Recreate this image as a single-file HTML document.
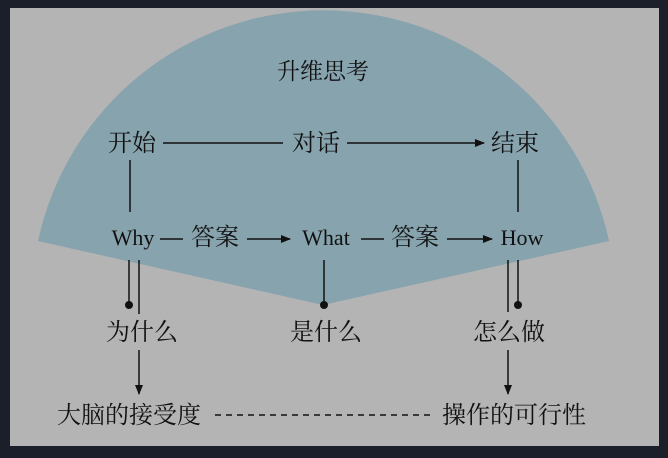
<!DOCTYPE html>
<html><head><meta charset="utf-8"><style>
html,body{margin:0;padding:0;background:#1b1f29;}
svg{display:block}
text{font-family:"Liberation Serif","Noto Serif CJK SC",serif;fill:#111;}
</style></head><body>
<svg width="668" height="458" viewBox="0 0 668 458" xmlns="http://www.w3.org/2000/svg">
<defs><marker id="a" markerWidth="10" markerHeight="8" refX="9" refY="4" orient="auto" markerUnits="userSpaceOnUse"><path d="M0,0L10,4L0,8z" fill="#111"/></marker></defs>
<rect x="0" y="0" width="668" height="458" fill="#1b1f29"/>
<rect x="10" y="8" width="649" height="438" fill="#b4b4b4"/>
<path d="M323,305 L38,241 A292,292 0 0 1 609,241 Z" fill="#87a3ae"/>
<g font-size="24">
<text x="323" y="79" text-anchor="middle" font-family="Liberation Sans,Noto Sans CJK SC,sans-serif" font-size="23">升维思考</text>
<text x="132" y="151" text-anchor="middle">开始</text>
<text x="316" y="151" text-anchor="middle">对话</text>
<text x="515" y="151" text-anchor="middle">结束</text>
<text x="133" y="245" text-anchor="middle" font-size="22">Why</text>
<text x="326" y="245" text-anchor="middle" font-size="22">What</text>
<text x="522" y="245" text-anchor="middle" font-size="22">How</text>
<text x="215" y="245" text-anchor="middle">答案</text>
<text x="415" y="245" text-anchor="middle">答案</text>
<text x="142" y="340" text-anchor="middle">为什么</text>
<text x="326" y="340" text-anchor="middle">是什么</text>
<text x="509" y="340" text-anchor="middle">怎么做</text>
<text x="129" y="423" text-anchor="middle">大脑的接受度</text>
<text x="514" y="423" text-anchor="middle">操作的可行性</text>
</g>
<g stroke="#111" stroke-width="1.5" fill="none">
<line x1="163" y1="143" x2="283" y2="143"/>
<line x1="347" y1="143" x2="484" y2="143" marker-end="url(#a)"/>
<line x1="130" y1="160" x2="130" y2="212"/>
<line x1="518" y1="160" x2="518" y2="212"/>
<line x1="160" y1="239" x2="183" y2="239"/>
<line x1="247" y1="239" x2="290" y2="239" marker-end="url(#a)"/>
<line x1="361" y1="239" x2="384" y2="239"/>
<line x1="447" y1="239" x2="492" y2="239" marker-end="url(#a)"/>
<line x1="129" y1="260" x2="129" y2="305"/>
<line x1="139" y1="260" x2="139" y2="314"/>
<line x1="324" y1="260" x2="324" y2="305"/>
<line x1="508" y1="260" x2="508" y2="312"/>
<line x1="518" y1="260" x2="518" y2="305"/>
<line x1="139" y1="350" x2="139" y2="394" marker-end="url(#a)"/>
<line x1="508" y1="350" x2="508" y2="394" marker-end="url(#a)"/>
<line x1="215" y1="415" x2="430" y2="415" stroke-dasharray="6,5"/>
</g>
<g fill="#111"><circle cx="129" cy="305" r="4"/><circle cx="324" cy="305" r="4"/><circle cx="518" cy="305" r="4"/></g>
</svg>
</body></html>
